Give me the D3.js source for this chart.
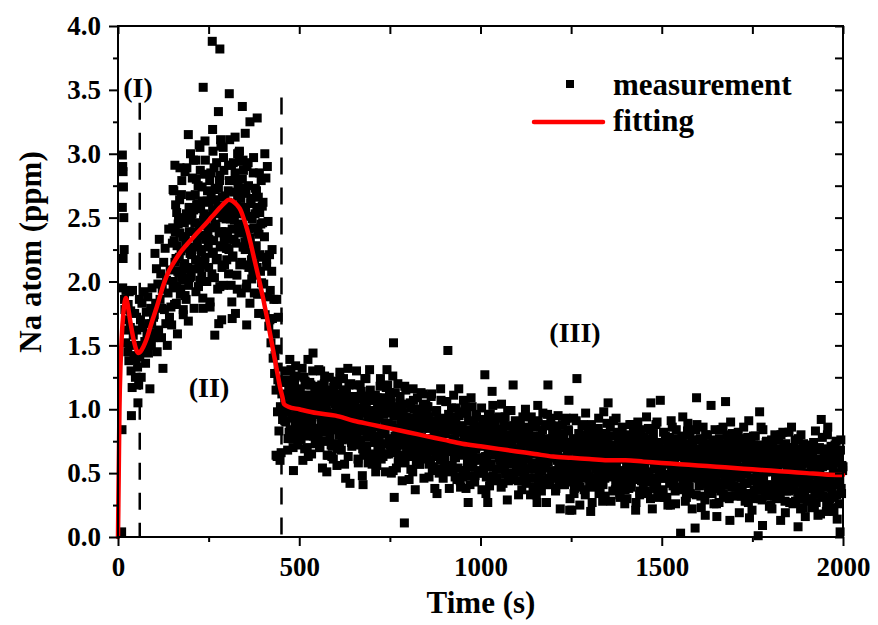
<!DOCTYPE html>
<html><head><meta charset="utf-8">
<script src="https://cdn.jsdelivr.net/npm/d3@7/dist/d3.min.js"></script>
<style>body{margin:0;background:#fff}</style>
</head><body>
<svg id="chart" width="878" height="625"></svg>
<script>
// ---------------- DATA ----------------
const xTicks = [0, 500, 1000, 1500, 2000];
const xMinorTicks = [250, 750, 1250, 1750];
const yTicks = [0.0, 0.5, 1.0, 1.5, 2.0, 2.5, 3.0, 3.5, 4.0];
const yMinorTicks = [0.25, 0.75, 1.25, 1.75, 2.25, 2.75, 3.25, 3.75];
const regionBounds = [60, 451];
const regionTops = [3.40, 3.44];
const regionLabels = ["(I)", "(II)", "(III)"];
const legendLabels = ["measurement", "fitting"];

// measurement, region I
const timeI = [10,11,12,13,14,15,12,16,17,14,13,18,19,21,22,24,26,27,28,30,31,32,34,35,36,37,39,40,42,44,46,48,50,52,54,55,57,58,59];
const naI = [.04,.84,2.99,2.9,2.86,2.74,2.58,2.5,2.25,2.18,1.95,1.86,1.78,1.52,1.93,1.7,1.62,1.45,1.82,1.38,1.92,1.5,1.64,1.77,1.3,.95,1.17,1.93,1.58,1.42,1.75,1.25,1.39,1.62,1.33,1.05,1.19,1.5,1.86];

// measurement, region II (even seconds)
const timeII = [
60,62,64,66,68,70,72,74,76,78,80,82,84,86,88,90,92,94,96,98,
100,102,104,106,108,110,112,114,116,118,120,122,124,126,128,130,132,134,136,138,140,142,144,146,148,
150,152,154,156,158,160,162,164,166,168,170,172,174,176,178,180,182,184,186,188,190,192,194,196,198,
200,202,204,206,208,210,212,214,216,218,220,222,224,226,228,230,232,234,236,238,240,242,244,246,248,
250,252,254,256,258,260,262,264,266,268,270,272,274,276,278,280,282,284,286,288,290,292,294,296,298,
300,302,304,306,308,310,312,314,316,318,320,322,324,326,328,330,332,334,336,338,340,342,344,346,348,
350,352,354,356,358,360,362,364,366,368,370,372,374,376,378,380,382,384,386,388,390,392,394,396,398,
400,402,404,406,408,410,412,414,416,418,420,422,424,426,428,430,432,434,436,438,440,442,444,446,448,450,452,454];
const naII = [
1.41,1.70,1.25,1.83,1.64,1.47,1.92,1.53,1.36,1.76,1.59,1.88,1.44,1.67,1.16,1.79,1.50,1.95,1.56,1.72,
1.74,2.22,1.83,2.10,1.45,1.98,1.62,2.33,1.86,2.06,1.56,1.94,1.32,2.15,1.78,2.26,1.67,2.01,1.50,1.91,2.41,1.72,2.09,1.80,1.66,
2.30,1.95,2.71,1.82,2.39,2.18,2.54,1.59,2.45,2.07,2.64,1.90,2.24,2.79,2.01,1.74,2.49,2.14,2.35,1.86,2.89,2.11,1.69,2.58,2.03,
2.67,2.04,2.53,2.27,2.95,1.79,2.46,2.17,2.80,2.34,2.61,1.96,3.07,2.10,2.57,2.23,2.74,1.87,2.48,2.84,2.19,2.44,2.00,2.63,2.38,
2.11,2.62,1.84,2.85,2.51,2.22,3.02,2.32,2.03,2.72,2.43,2.93,2.18,2.58,1.67,2.79,2.28,3.06,2.39,2.66,1.97,2.87,2.13,2.56,2.49,
2.17,2.35,2.71,2.25,3.11,2.49,1.97,2.61,2.19,2.93,2.33,2.79,1.75,2.53,2.05,2.67,2.43,3.01,2.13,2.57,1.91,2.73,2.39,2.87,2.27,
2.31,2.55,1.95,2.37,2.13,2.75,2.41,1.83,2.65,2.17,2.49,2.05,2.97,1.91,2.53,2.27,2.71,2.11,2.39,1.75,2.85,2.21,2.45,1.99,2.59,
2.62,1.98,2.35,1.74,2.81,2.12,1.88,2.47,1.65,2.21,1.93,1.52,2.08,1.71,1.40,1.86,1.28,1.59,1.15,1.47,0.98,1.33,0.83,1.21,1.02,0.66,1.12,0.92];

// measurement, region II (odd seconds)
const timeIIb = [
151,153,155,157,159,161,163,165,167,169,171,173,175,177,179,181,183,185,187,189,191,193,195,197,199,
201,203,205,207,209,211,213,215,217,219,221,223,225,227,229,231,233,235,237,239,241,243,245,247,249,
251,253,255,257,259,261,263,265,267,269,271,273,275,277,279,281,283,285,287,289,291,293,295,297,299,
301,303,305,307,309,311,313,315,317,319,321,323,325,327,329,331,333,335,337,339,341,343,345,347,349,
351,353,355,357,359,361,363,365,367,369,371,373,375,377,379,381,383,385,387,389,391,393,395,397,399];
const naIIb = [
2.42,2.00,2.32,2.15,2.60,1.83,2.28,2.08,2.50,2.19,2.38,1.94,2.68,2.04,2.35,2.12,2.46,1.89,2.29,2.53,2.10,2.26,1.97,2.39,2.22,
2.48,2.21,2.81,2.10,2.56,2.39,2.68,1.92,2.60,2.30,2.75,2.16,2.44,2.87,2.25,2.04,2.63,2.36,2.53,2.13,2.95,2.33,2.00,2.71,2.27,
2.33,2.79,2.42,2.68,2.06,2.56,2.23,2.89,2.45,2.64,2.17,2.53,1.94,2.73,2.38,2.83,2.27,2.59,2.11,2.50,2.97,2.32,2.67,2.39,2.26,
2.26,2.62,2.06,2.79,2.55,2.33,2.91,2.41,2.20,2.70,2.48,2.85,2.30,2.59,1.94,2.74,2.38,2.94,2.45,2.65,2.15,2.80,2.27,2.58,2.53,
2.25,2.69,1.98,2.31,2.93,2.11,2.51,2.34,2.61,2.02,2.23,2.85,2.42,2.14,2.73,2.28,2.58,1.90,2.66,2.37,2.54,2.08,2.79,2.19,2.46];

// measurement, region II (scattered readings)
const timeIIx = [260,281,235,307,277,261,283,323,343,364,384,351,226,194,157,171,152,305,267,235,254,286,315,355,314,281,226,180,162,121,93,97,436,447,439,442,433,441,419,410,438,425,412,405,330,290,240,215,200,185,335,345,356];
const naIIx = [3.88,3.82,3.52,3.47,3.33,3.19,3.11,3.13,3.37,3.25,3.28,3.16,3.05,3.15,2.91,2.89,2.72,2.91,1.58,1.79,1.80,1.70,1.71,1.66,1.84,1.96,2.01,1.78,1.96,1.79,1.67,1.60,.64,.60,.63,1.72,1.42,1.23,1.70,2.17,1.86,2.25,2.90,3.00,3.00,3.05,3.10,2.95,3.00,2.86,3.02,2.95,2.90];

// measurement, region III (even seconds)
const timeIII = [
460,462,464,466,468,470,472,474,476,478,480,482,484,486,488,490,492,494,496,498,
500,502,504,506,508,510,512,514,516,518,520,522,524,526,528,530,532,534,536,538,540,542,544,546,548,
550,552,554,556,558,560,562,564,566,568,570,572,574,576,578,580,582,584,586,588,590,592,594,596,598,
600,602,604,606,608,610,612,614,616,618,620,622,624,626,628,630,632,634,636,638,640,642,644,646,648,
650,652,654,656,658,660,662,664,666,668,670,672,674,676,678,680,682,684,686,688,690,692,694,696,698,
700,702,704,706,708,710,712,714,716,718,720,722,724,726,728,730,732,734,736,738,740,742,744,746,748,
750,752,754,756,758,760,762,764,766,768,770,772,774,776,778,780,782,784,786,788,790,792,794,796,798,
800,802,804,806,808,810,812,814,816,818,820,822,824,826,828,830,832,834,836,838,840,842,844,846,848,
850,852,854,856,858,860,862,864,866,868,870,872,874,876,878,880,882,884,886,888,890,892,894,896,898,
900,902,904,906,908,910,912,914,916,918,920,922,924,926,928,930,932,934,936,938,940,942,944,946,948,
950,952,954,956,958,960,962,964,966,968,970,972,974,976,978,980,982,984,986,988,990,992,994,996,998,
1000,1002,1004,1006,1008,1010,1012,1014,1016,1018,1020,1022,1024,1026,1028,1030,1032,1034,1036,1038,1040,1042,1044,1046,1048,
1050,1052,1054,1056,1058,1060,1062,1064,1066,1068,1070,1072,1074,1076,1078,1080,1082,1084,1086,1088,1090,1092,1094,1096,1098,
1100,1102,1104,1106,1108,1110,1112,1114,1116,1118,1120,1122,1124,1126,1128,1130,1132,1134,1136,1138,1140,1142,1144,1146,1148,
1150,1152,1154,1156,1158,1160,1162,1164,1166,1168,1170,1172,1174,1176,1178,1180,1182,1184,1186,1188,1190,1192,1194,1196,1198,
1200,1202,1204,1206,1208,1210,1212,1214,1216,1218,1220,1222,1224,1226,1228,1230,1232,1234,1236,1238,1240,1242,1244,1246,1248,
1250,1252,1254,1256,1258,1260,1262,1264,1266,1268,1270,1272,1274,1276,1278,1280,1282,1284,1286,1288,1290,1292,1294,1296,1298,
1300,1302,1304,1306,1308,1310,1312,1314,1316,1318,1320,1322,1324,1326,1328,1330,1332,1334,1336,1338,1340,1342,1344,1346,1348,
1350,1352,1354,1356,1358,1360,1362,1364,1366,1368,1370,1372,1374,1376,1378,1380,1382,1384,1386,1388,1390,1392,1394,1396,1398,
1400,1402,1404,1406,1408,1410,1412,1414,1416,1418,1420,1422,1424,1426,1428,1430,1432,1434,1436,1438,1440,1442,1444,1446,1448,
1450,1452,1454,1456,1458,1460,1462,1464,1466,1468,1470,1472,1474,1476,1478,1480,1482,1484,1486,1488,1490,1492,1494,1496,1498,
1500,1502,1504,1506,1508,1510,1512,1514,1516,1518,1520,1522,1524,1526,1528,1530,1532,1534,1536,1538,1540,1542,1544,1546,1548,
1550,1552,1554,1556,1558,1560,1562,1564,1566,1568,1570,1572,1574,1576,1578,1580,1582,1584,1586,1588,1590,1592,1594,1596,1598,
1600,1602,1604,1606,1608,1610,1612,1614,1616,1618,1620,1622,1624,1626,1628,1630,1632,1634,1636,1638,1640,1642,1644,1646,1648,
1650,1652,1654,1656,1658,1660,1662,1664,1666,1668,1670,1672,1674,1676,1678,1680,1682,1684,1686,1688,1690,1692,1694,1696,1698,
1700,1702,1704,1706,1708,1710,1712,1714,1716,1718,1720,1722,1724,1726,1728,1730,1732,1734,1736,1738,1740,1742,1744,1746,1748,
1750,1752,1754,1756,1758,1760,1762,1764,1766,1768,1770,1772,1774,1776,1778,1780,1782,1784,1786,1788,1790,1792,1794,1796,1798,
1800,1802,1804,1806,1808,1810,1812,1814,1816,1818,1820,1822,1824,1826,1828,1830,1832,1834,1836,1838,1840,1842,1844,1846,1848,
1850,1852,1854,1856,1858,1860,1862,1864,1866,1868,1870,1872,1874,1876,1878,1880,1882,1884,1886,1888,1890,1892,1894,1896,1898,
1900,1902,1904,1906,1908,1910,1912,1914,1916,1918,1920,1922,1924,1926,1928,1930,1932,1934,1936,1938,1940,1942,1944,1946,1948,
1950,1952,1954,1956,1958,1960,1962,1964,1966,1968,1970,1972,1974,1976,1978,1980,1982,1984,1986,1988,1990,1992,1994,1996,1998,2000];
const naIII = [
.91,1.30,.99,1.21,.68,1.11,.82,1.39,1.02,1.17,.77,1.08,.52,1.25,.95,1.34,.86,1.13,.72,1.06,
1.15,.76,1.06,.90,1.32,.60,1.02,.83,1.22,.94,1.11,.70,1.39,.79,1.08,.87,1.19,.65,1.03,1.44,.85,1.0,.73,1.12,.96,
1.02,.79,1.31,.70,1.09,.94,1.19,.54,1.13,.87,1.26,.75,.98,.51,.83,.64,1.15,.92,1.06,.72,.63,.89,.61,1.22,.84,
.73,1.04,.56,1.19,.98,.80,1.29,.86,.68,1.11,.93,1.24,.77,1.02,.46,1.15,.84,1.32,.90,1.07,.42,1.20,.74,1.01,.97,
.73,.84,1.06,.78,1.30,.92,.61,1.00,.74,1.19,.83,1.10,.48,.41,.66,1.03,.89,1.24,.71,.97,.58,1.07,1.31,1.15,.79,
.85,.99,.63,.88,.74,1.11,.91,.56,1.05,.76,.95,.69,1.24,.61,.98,.82,1.09,.73,.89,.51,1.17,1.31,1.19,.65,1.01,
.72,1.07,.50,.77,1.26,1.52,.31,.79,1.01,.54,.71,1.20,.85,.64,1.10,.74,.98,.44,1.04,.82,.11,.59,1.15,.67,.89,
.83,.87,.63,1.05,.53,.93,.77,1.16,.71,1.00,.37,.88,.65,1.09,.80,.97,.57,.74,1.13,.68,.85,1.04,.46,.91,.62,
.68,1.02,.75,.94,.47,.85,.60,1.10,.77,.91,.55,.83,.38,.98,.71,.34,.63,.87,.50,.80,1.16,.66,.93,.72,.62,
.81,.60,1.06,.52,.86,1.46,.96,.38,.90,.67,1.01,.56,.77,1.11,.63,.47,.92,.71,.84,.54,1.16,.69,.44,.98,.64,
.87,.52,.79,.65,1.02,.38,.75,.59,.27,.68,.83,.48,1.09,.56,.81,.63,.90,.43,.76,.96,.60,.74,.50,.85,.71,
.52,.79,.37,.92,.73,.57,1.27,.63,.47,.85,.27,.96,.55,.77,.45,.88,1.14,1.03,.67,.82,.44,.93,.53,.76,.72,
.53,.62,.82,.57,1.04,.70,.42,.77,.54,.94,.61,.87,.29,.72,.46,.80,.67,.99,.50,.75,1.19,.83,.65,.91,.58,
.64,.77,.44,.67,.54,.88,.69,.37,.83,.56,.74,.49,1.00,.42,.76,.62,.86,.53,.68,.33,.94,.58,.72,.46,.79,
.53,.86,.33,.27,1.03,.43,.72,.60,.79,.36,.52,.97,.65,.45,.88,.55,.27,.71,1.19,.62,.74,.41,.93,.49,.68,
.65,.69,.46,.85,.38,.74,.60,.95,.54,.81,.22,.70,.49,.88,.62,.77,.41,.56,.93,.51,.66,.84,1.07,.21,.45,
.52,.21,.59,.77,.34,.68,.45,.91,1.24,.74,.41,.66,.25,.80,.56,.87,.48,.70,.37,.64,.97,.51,.76,.57,.47,
.65,.46,.20,.88,.27,.59,.79,.70,.74,.53,.84,.43,.62,.93,.49,.35,.76,.57,.68,.41,.98,.55,.32,.81,.51,
.73,1.05,.65,.53,.86,.28,.62,.47,.79,.56,.69,.37,.93,.44,.67,.51,.76,.33,.63,.81,.48,.61,.39,.71,.26,
.43,.68,.30,.80,.63,.48,.88,.54,.39,.74,.59,.84,.46,.66,.21,.77,.52,.90,.57,.71,.36,.81,.44,.65,.62,
.44,.54,.73,.48,.94,.61,.34,.67,.45,.84,1.05,.77,.22,.63,.38,.71,.58,.88,.42,.65,.31,.74,.56,1.07,.50,
.56,.69,.37,.59,.46,.79,.61,.31,.74,.49,.65,.42,.25,.91,.67,.54,.77,.45,.60,.26,.84,.51,.63,.39,.71,
.47,.03,.77,.51,.94,.37,.64,.53,.72,.31,.45,.89,.58,.39,.80,.49,.70,.22,.75,.55,.66,.07,.84,1.09,.61,
.58,.61,.40,.77,.32,.67,.53,.86,.48,.73,.17,.62,.42,.80,.55,.70,.35,.50,1.03,.44,.59,.76,.26,.64,.39,
.46,.16,.52,.70,.27,.61,.38,.84,.54,.67,.34,.59,.73,1.06,.49,.80,.41,.63,.30,.13,.90,.44,.69,.50,.40,
.58,.39,.81,.32,.63,.52,.72,.19,.67,.46,.77,.36,.55,.86,.42,.28,.69,.50,.61,.34,.91,.15,.71,.74,.44,
.66,.34,.58,.46,.79,.62,.55,.40,.01,.49,.98,.30,.86,.37,.09,.44,.69,.60,.56,.74,.41,.54,.32,.64,.51,
.35,.60,.22,.72,.55,.40,.80,.46,.31,.66,.51,.76,.38,.58,.13,.69,.44,.82,.49,.63,.28,.73,.36,.57,.54,
.36,.46,.65,.40,.86,.53,.26,.59,.37,.76,.45,.69,.55,.08,.30,.63,.50,.80,.34,.57,.23,.66,.48,.16,.42,
.48,.61,.29,.50,.38,.72,.53,.23,.66,.41,.57,.34,.83,.27,.59,.46,.69,.37,.52,.18,.92,.43,.55,.31,.63,
.39,.69,.20,.43,.86,.29,.56,.45,.64,.62,.37,.23,.50,.31,.72,.41,.62,.14,.67,.47,.58,.04,.76,.34,.53,.55];

// measurement, region III (odd seconds)
const timeIIIb = [
461,463,465,467,469,471,473,475,477,479,481,483,485,487,489,491,493,495,497,499,
501,503,505,507,509,511,513,515,517,519,521,523,525,527,529,531,533,535,537,539,541,543,545,547,549,
551,553,555,557,559,561,563,565,567,569,571,573,575,577,579,581,583,585,587,589,591,593,595,597,599,
601,603,605,607,609,611,613,615,617,619,621,623,625,627,629,631,633,635,637,639,641,643,645,647,649,
651,653,655,657,659,661,663,665,667,669,671,673,675,677,679,681,683,685,687,689,691,693,695,697,699,
701,703,705,707,709,711,713,715,717,719,721,723,725,727,729,731,733,735,737,739,741,743,745,747,749,
751,753,755,757,759,761,763,765,767,769,771,773,775,777,779,781,783,785,787,789,791,793,795,797,799,
801,803,805,807,809,811,813,815,817,819,821,823,825,827,829,831,833,835,837,839,841,843,845,847,849,
851,853,855,857,859,861,863,865,867,869,871,873,875,877,879,881,883,885,887,889,891,893,895,897,899,
901,903,905,907,909,911,913,915,917,919,921,923,925,927,929,931,933,935,937,939,941,943,945,947,949,
951,953,955,957,959,961,963,965,967,969,971,973,975,977,979,981,983,985,987,989,991,993,995,997,999,
1001,1003,1005,1007,1009,1011,1013,1015,1017,1019,1021,1023,1025,1027,1029,1031,1033,1035,1037,1039,1041,1043,1045,1047,1049,
1051,1053,1055,1057,1059,1061,1063,1065,1067,1069,1071,1073,1075,1077,1079,1081,1083,1085,1087,1089,1091,1093,1095,1097,1099,
1101,1103,1105,1107,1109,1111,1113,1115,1117,1119,1121,1123,1125,1127,1129,1131,1133,1135,1137,1139,1141,1143,1145,1147,1149,
1151,1153,1155,1157,1159,1161,1163,1165,1167,1169,1171,1173,1175,1177,1179,1181,1183,1185,1187,1189,1191,1193,1195,1197,1199,
1201,1203,1205,1207,1209,1211,1213,1215,1217,1219,1221,1223,1225,1227,1229,1231,1233,1235,1237,1239,1241,1243,1245,1247,1249,
1251,1253,1255,1257,1259,1261,1263,1265,1267,1269,1271,1273,1275,1277,1279,1281,1283,1285,1287,1289,1291,1293,1295,1297,1299,
1301,1303,1305,1307,1309,1311,1313,1315,1317,1319,1321,1323,1325,1327,1329,1331,1333,1335,1337,1339,1341,1343,1345,1347,1349,
1351,1353,1355,1357,1359,1361,1363,1365,1367,1369,1371,1373,1375,1377,1379,1381,1383,1385,1387,1389,1391,1393,1395,1397,1399,
1401,1403,1405,1407,1409,1411,1413,1415,1417,1419,1421,1423,1425,1427,1429,1431,1433,1435,1437,1439,1441,1443,1445,1447,1449,
1451,1453,1455,1457,1459,1461,1463,1465,1467,1469,1471,1473,1475,1477,1479,1481,1483,1485,1487,1489,1491,1493,1495,1497,1499,
1501,1503,1505,1507,1509,1511,1513,1515,1517,1519,1521,1523,1525,1527,1529,1531,1533,1535,1537,1539,1541,1543,1545,1547,1549,
1551,1553,1555,1557,1559,1561,1563,1565,1567,1569,1571,1573,1575,1577,1579,1581,1583,1585,1587,1589,1591,1593,1595,1597,1599,
1601,1603,1605,1607,1609,1611,1613,1615,1617,1619,1621,1623,1625,1627,1629,1631,1633,1635,1637,1639,1641,1643,1645,1647,1649,
1651,1653,1655,1657,1659,1661,1663,1665,1667,1669,1671,1673,1675,1677,1679,1681,1683,1685,1687,1689,1691,1693,1695,1697,1699,
1701,1703,1705,1707,1709,1711,1713,1715,1717,1719,1721,1723,1725,1727,1729,1731,1733,1735,1737,1739,1741,1743,1745,1747,1749,
1751,1753,1755,1757,1759,1761,1763,1765,1767,1769,1771,1773,1775,1777,1779,1781,1783,1785,1787,1789,1791,1793,1795,1797,1799,
1801,1803,1805,1807,1809,1811,1813,1815,1817,1819,1821,1823,1825,1827,1829,1831,1833,1835,1837,1839,1841,1843,1845,1847,1849,
1851,1853,1855,1857,1859,1861,1863,1865,1867,1869,1871,1873,1875,1877,1879,1881,1883,1885,1887,1889,1891,1893,1895,1897,1899,
1901,1903,1905,1907,1909,1911,1913,1915,1917,1919,1921,1923,1925,1927,1929,1931,1933,1935,1937,1939,1941,1943,1945,1947,1949,
1951,1953,1955,1957,1959,1961,1963,1965,1967,1969,1971,1973,1975,1977,1979,1981,1983,1985,1987,1989,1991,1993,1995,1997,1999];
const naIIIb = [
1.10,.90,1.23,.98,.77,1.16,1.03,.84,1.31,.93,1.13,.70,1.06,1.20,.88,1.26,1.00,.81,1.12,.95,
.93,1.16,.77,1.09,1.01,.86,1.25,.69,1.06,.98,1.19,.89,.63,1.11,1.21,.82,1.05,.91,1.30,.79,.96,1.13,.75,1.08,1.18,
.99,.85,1.09,.70,1.30,.89,1.06,.75,.94,1.20,.82,1.14,1.00,.64,1.07,.87,1.25,.78,.97,1.10,.71,.92,1.17,.84,1.04,
1.12,1.02,.69,1.07,.90,.73,1.24,.85,.99,.76,1.15,1.05,.57,.83,1.13,.92,1.00,.63,1.19,.80,.95,1.03,.71,1.10,.87,
1.04,.91,.72,1.19,.81,1.01,.58,.94,1.08,.76,1.14,.88,.69,1.00,.83,1.24,.64,1.03,.79,.93,.98,.78,1.11,.86,.65,
.57,.94,.86,1.07,.77,.51,.99,1.09,.70,.93,.79,1.18,.67,.84,1.01,.63,.96,1.06,.81,1.04,.65,.97,.89,.74,1.13,
1.08,.70,1.02,.88,.52,.95,.75,1.13,.66,.85,.98,.59,.80,1.05,.72,.92,.87,.73,.97,.58,1.18,.77,.94,.63,.82,
.93,.45,.71,1.01,.80,.88,.51,1.07,.68,.83,.91,.59,.98,.75,1.00,.90,.57,.95,.78,.61,1.12,.73,.87,.64,1.03,
.96,.64,1.02,.76,.57,.88,.71,1.12,.52,.91,.67,.81,.86,.66,.99,.74,.53,.92,.79,.60,1.07,.69,.89,.46,.82,
.58,.81,.67,1.06,.55,.72,.89,.51,.84,.94,.69,.92,.53,.85,.77,.62,1.01,.45,.82,.74,.95,.65,.39,.87,.97,
.47,1.07,.66,.83,.52,.71,.97,.59,.91,.77,.41,.84,.64,1.02,.55,.74,.87,.48,.69,.94,.61,.81,.76,.62,.86,
.50,1.01,.62,.76,.53,.92,.82,.34,.60,.90,.69,.77,.40,.96,.57,.72,.80,.48,.87,.64,.89,.79,.46,.84,.67,
.94,.60,.78,.39,.72,.84,.55,.90,.66,.49,.77,.62,.99,.44,.80,.58,.71,.75,.57,.87,.64,.45,.81,.69,.52,
.84,.57,.33,.77,.86,.51,.71,.59,.94,.48,.63,.79,.44,.74,.83,.61,.81,.46,.75,.68,.54,.90,.39,.72,.65,
.69,.36,.75,.57,.91,.49,.66,.78,.42,.61,.84,.54,.72,.68,.55,.77,.41,.96,.59,.74,.46,.63,.87,.52,.81,
.81,.62,.69,.36,.87,.51,.65,.72,.43,.78,.58,.80,.71,.41,.76,.60,.45,.91,.56,.68,.48,.83,.74,.30,.54,
.43,.71,.56,.93,.38,.74,.52,.65,.69,.51,.81,.58,.39,.75,.63,.46,.88,.54,.72,.33,.66,.78,.49,.84,.60,
.43,.58,.74,.39,.69,.78,.56,.76,.41,.70,.63,.49,.85,.34,.67,.60,.79,.52,.28,.72,.81,.46,.66,.54,.89,
.56,.79,.49,.67,.63,.50,.72,.36,.91,.54,.69,.41,.58,.82,.47,.76,.64,.31,.70,.52,.86,.44,.61,.73,.37,
.75,.55,.77,.68,.38,.73,.57,.42,.88,.53,.65,.45,.80,.71,.27,.51,.78,.59,.66,.33,.84,.48,.62,.69,.40,
.78,.55,.36,.72,.60,.43,.85,.51,.69,.30,.63,.75,.46,.81,.57,.40,.68,.53,.90,.35,.71,.49,.62,.66,.48,
.60,.46,.82,.31,.64,.57,.76,.49,.25,.69,.78,.43,.63,.51,.86,.40,.55,.71,.36,.66,.75,.53,.73,.38,.67,
.66,.38,.55,.79,.44,.73,.61,.28,.67,.49,.83,.41,.58,.70,.34,.52,.76,.46,.64,.60,.47,.69,.33,.88,.51,
.61,.41,.76,.67,.23,.47,.74,.55,.62,.29,.80,.44,.58,.65,.36,.71,.51,.73,.64,.34,.69,.53,.38,.84,.49,
.26,.59,.71,.42,.77,.53,.36,.64,.49,.86,.31,.67,.45,.58,.62,.44,.74,.51,.32,.68,.56,.39,.81,.47,.65,
.65,.74,.39,.59,.47,.82,.36,.51,.67,.32,.62,.71,.49,.69,.34,.63,.56,.42,.78,.27,.60,.53,.72,.45,.21,
.45,.79,.37,.54,.66,.30,.49,.72,.42,.60,.56,.43,.65,.29,.84,.47,.62,.34,.51,.75,.40,.69,.57,.24,.63,
.25,.76,.40,.54,.61,.32,.67,.47,.69,.60,.30,.65,.49,.34,.80,.45,.57,.37,.72,.63,.19,.43,.70,.51,.58,
.82,.27,.63,.41,.54,.58,.40,.70,.47,.28,.64,.52,.35,.77,.43,.61,.22,.55,.67,.38,.73,.49,.32,.60,.45,
.28,.58,.67,.45,.65,.30,.59,.52,.38,.74,.23,.56,.49,.68,.41,.17,.61,.70,.35,.55,.43,.78,.32,.47,.63,
.39,.61,.25,.80,.43,.58,.30,.47,.71,.36,.65,.53,.20,.59,.41,.75,.33,.50,.62,.26,.45,.68,.38,.56,.52];

// fitting curve
const fitTime = [0,2,4,7,10,15,19,22,26,31,38,45,51,56,62,70,79,92,107,125,140,152,170,190,212,235,260,282,296,306,316,328,338,346,356,366,374,388,401,415,428,440,448,454,458,470,500,548,600,650,700,750,800,850,900,950,1000,1050,1100,1150,1200,1250,1300,1350,1400,1450,1500,1550,1600,1650,1700,1750,1800,1850,1900,1950,2000];
const fitNa = [0,0.5,1.0,1.35,1.55,1.76,1.85,1.87,1.83,1.74,1.62,1.52,1.46,1.44,1.45,1.49,1.55,1.67,1.8,1.97,2.08,2.14,2.22,2.29,2.36,2.43,2.51,2.58,2.62,2.64,2.63,2.6,2.56,2.5,2.41,2.3,2.2,2.03,1.86,1.66,1.46,1.28,1.16,1.09,1.04,1.02,1.0,0.97,0.95,0.91,0.88,0.85,0.82,0.79,0.76,0.73,0.71,0.69,0.67,0.65,0.63,0.62,0.61,0.6,0.6,0.59,0.58,0.57,0.56,0.55,0.54,0.53,0.52,0.51,0.5,0.49,0.485];

// ---------------- CHECKS ----------------
[[timeI,naI,'I'],[timeII,naII,'II'],[timeIIb,naIIb,'IIb'],[timeIIx,naIIx,'IIx'],[timeIII,naIII,'III'],[timeIIIb,naIIIb,'IIIb'],[fitTime,fitNa,'fit']]
  .forEach(([a,b,n]) => { if (a.length !== b.length) throw new Error('length mismatch ' + n + ': ' + a.length + ' vs ' + b.length); });

// ---------------- DRAW ----------------
const FONT = '"Liberation Serif","Times New Roman",Times,serif';
const svg = d3.select('#chart');
const x = d3.scaleLinear().domain([0, 2000]).range([118, 843]);
const y = d3.scaleLinear().domain([0, 4]).range([537, 26]);

const measurement = [].concat(
  d3.zip(timeI, naI), d3.zip(timeII, naII), d3.zip(timeIIb, naIIb),
  d3.zip(timeIIx, naIIx), d3.zip(timeIII, naIII), d3.zip(timeIIIb, naIIIb));

// region separators
svg.append('g').selectAll('line').data(regionBounds).join('line')
  .attr('x1', d => x(d)).attr('x2', d => x(d))
  .attr('y1', (d, i) => y(regionTops[i])).attr('y2', y(0))
  .attr('stroke', '#000').attr('stroke-width', 2.5)
  .attr('stroke-dasharray', '17,13');

// measurement points
const S = 9;
svg.append('g').selectAll('rect').data(measurement).join('rect')
  .attr('x', d => x(d[0]) - S / 2).attr('y', d => y(d[1]) - S / 2)
  .attr('width', S).attr('height', S).attr('fill', '#000');

// fitting line
svg.append('path').datum(d3.zip(fitTime, fitNa))
  .attr('d', d3.line().x(d => x(d[0])).y(d => y(d[1])).curve(d3.curveMonotoneX))
  .attr('fill', 'none').attr('stroke', '#ff0000').attr('stroke-width', 4.5)
  .attr('stroke-linejoin', 'round').attr('stroke-linecap', 'round');

// axes
function styleAxis(g) {
  g.select('.domain').remove();
  g.selectAll('.tick line').attr('stroke', '#000').attr('stroke-width', 2);
  g.attr('font-family', FONT).attr('font-size', 27).attr('font-weight', 'bold');
  g.selectAll('.tick text').attr('fill', '#000');
}
const fmtY = d3.format('.1f');
svg.append('g').attr('transform', `translate(0,${y(0)})`)
  .call(d3.axisBottom(x).tickValues(xTicks).tickSize(9).tickPadding(11).tickFormat(d3.format('d'))).call(styleAxis);
svg.append('g').attr('transform', `translate(0,${y(0)})`)
  .call(d3.axisBottom(x).tickValues(xMinorTicks).tickSize(5).tickFormat('')).call(styleAxis);
svg.append('g').attr('transform', `translate(${x(0)},0)`)
  .call(d3.axisLeft(y).tickValues(yTicks).tickSize(9).tickPadding(8).tickFormat(fmtY)).call(styleAxis);
svg.append('g').attr('transform', `translate(${x(0)},0)`)
  .call(d3.axisLeft(y).tickValues(yMinorTicks).tickSize(5).tickFormat('')).call(styleAxis);
svg.append('g').attr('transform', `translate(0,${y(4)})`)
  .call(d3.axisTop(x).tickValues(xTicks.concat(xMinorTicks)).tickSize(-8).tickFormat('')).call(styleAxis);
svg.append('g').attr('transform', `translate(${x(2000)},0)`)
  .call(d3.axisRight(y).tickValues(yTicks.concat(yMinorTicks)).tickSize(-8).tickFormat('')).call(styleAxis);

// frame
svg.append('rect').attr('x', x(0)).attr('y', y(4))
  .attr('width', x(2000) - x(0)).attr('height', y(0) - y(4))
  .attr('fill', 'none').attr('stroke', '#000').attr('stroke-width', 2);

// axis titles
const txt = (s, size) => svg.append('text').text(s)
  .attr('font-family', FONT).attr('font-weight', 'bold').attr('font-size', size).attr('fill', '#000');
txt('Time (s)', 31).attr('x', 481).attr('y', 613).attr('text-anchor', 'middle');
txt('Na atom (ppm)', 31).attr('text-anchor', 'middle').attr('transform', 'translate(41,252) rotate(-90)');

// region labels
const regionLabelPos = [[138, 97], [209, 397], [575, 342]];
regionLabels.forEach((s, i) => txt(s, 28).attr('x', regionLabelPos[i][0]).attr('y', regionLabelPos[i][1]).attr('text-anchor', 'middle'));

// legend
svg.append('rect').attr('x', 566).attr('y', 80).attr('width', 8).attr('height', 8).attr('fill', '#000');
txt(legendLabels[0], 31).attr('x', 613).attr('y', 95);
svg.append('line').attr('x1', 534).attr('x2', 603).attr('y1', 122).attr('y2', 122)
  .attr('stroke', '#ff0000').attr('stroke-width', 4.5).attr('stroke-linecap', 'round');
txt(legendLabels[1], 31).attr('x', 613).attr('y', 131);
</script>
</body></html>
